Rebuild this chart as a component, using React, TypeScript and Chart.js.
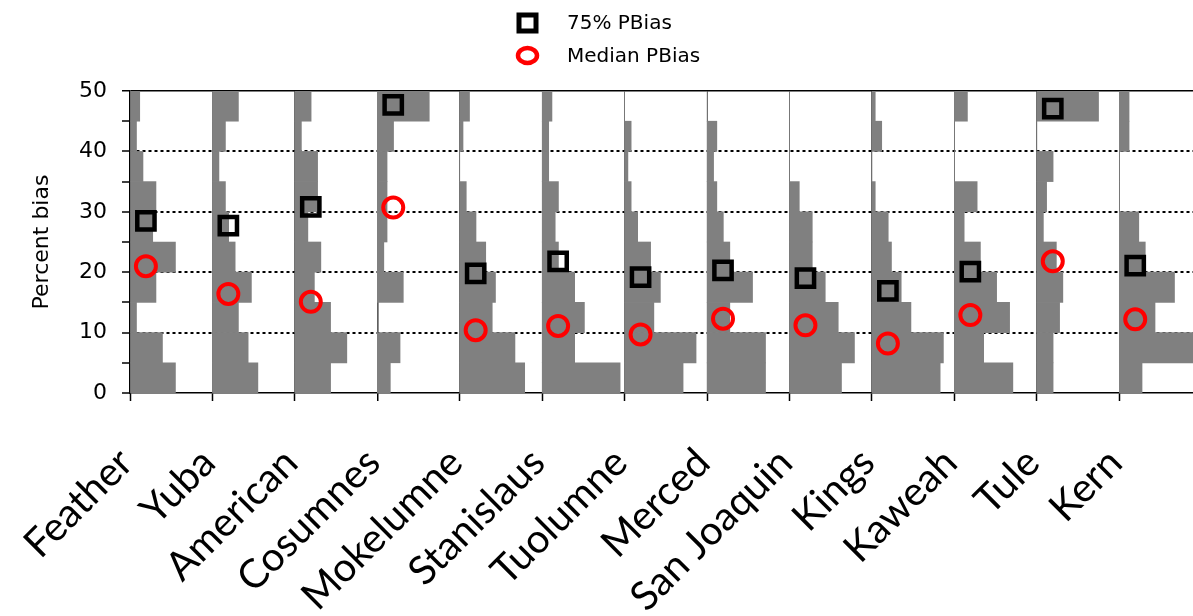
import { useEffect, useRef } from 'react';
import { Chart, registerables } from 'chart.js';

Chart.register(...registerables);

// ---- data ----
const RIVERS = ['Feather', 'Yuba', 'American', 'Cosumnes', 'Mokelumne', 'Stanislaus', 'Tuolumne', 'Merced', 'San Joaquin', 'Kings', 'Kaweah', 'Tule', 'Kern'];
// bin centres of percent bias (bins 0-5, 5-10, ..., 45-50)
const BIN_CENTERS = [2.5, 7.5, 12.5, 17.5, 22.5, 27.5, 32.5, 37.5, 42.5, 47.5];
// histogram counts per bin (0-5 ... 45-50)
const FEATHER = [14, 10, 2, 8, 14, 7, 8, 4, 2, 3];
const YUBA = [14, 11, 8, 12, 7, 5, 4, 2, 4, 8];
const AMERICAN = [11, 16, 11, 6, 8, 4, 7, 7, 2, 5];
const COSUMNES = [4, 7, 0, 8, 2, 3, 3, 3, 5, 16];
const MOKELUMNE = [20, 17, 10, 11, 8, 5, 2, 0, 1, 3];
const STANISLAUS = [24, 10, 13, 10, 5, 4, 5, 2, 2, 3];
const TUOLUMNE = [18, 22, 9, 11, 8, 4, 2, 1, 2, 0];
const MERCED = [18, 18, 7, 14, 7, 5, 3, 2, 3, 0];
const SAN_JOAQUIN = [16, 20, 15, 11, 7, 7, 3, 0, 0, 0];
const KINGS = [21, 22, 12, 9, 6, 5, 1, 0, 3, 1];
const KAWEAH = [18, 9, 17, 13, 8, 3, 7, 0, 0, 4];
const TULE = [5, 5, 7, 8, 6, 2, 3, 5, 0, 19];
const KERN = [7, 26, 11, 17, 8, 6, 0, 0, 3, 3];
const COUNTS = [FEATHER, YUBA, AMERICAN, COSUMNES, MOKELUMNE, STANISLAUS, TUOLUMNE, MERCED, SAN_JOAQUIN, KINGS, KAWEAH, TULE, KERN];

const P75_PBIAS = [28.5, 27.7, 30.8, 47.7, 19.8, 21.8, 19.2, 20.3, 19.0, 16.9, 20.1, 47.1, 21.1];
const MEDIAN_PBIAS = [21.0, 16.4, 15.1, 30.7, 10.4, 11.1, 9.7, 12.3, 11.2, 8.2, 12.9, 21.8, 12.2];

const Y_TICKS = [0, 5, 10, 15, 20, 25, 30, 35, 40, 45, 50];
const Y_LABELED = [0, 10, 20, 30, 40, 50];

// panel geometry in count units
const PANEL_WIDTH = 25.4;
const MARKER_OFFSET = 4.9;
const X_MAX = 327.5;

// ---- styles ----
const W = 1193;
const H = 616;
const BAR_GRAY = '#808080';

const legendPlugin = {
  id: 'stackedLegend',
  afterDraw(chart: any) {
    const ctx = chart.ctx as CanvasRenderingContext2D;
    const mx = 527.5;
    const tx = 567;
    const rows = [23, 55.5];
    ctx.save();
    ctx.lineWidth = 5;
    ctx.strokeStyle = '#000';
    ctx.strokeRect(mx - 8.5, rows[0] - 8, 17, 16);
    ctx.lineWidth = 4.5;
    ctx.strokeStyle = '#ff0000';
    ctx.beginPath();
    ctx.ellipse(mx, rows[1], 9.5, 7.5, 0, 0, Math.PI * 2);
    ctx.stroke();
    ctx.fillStyle = '#000';
    ctx.font = '20px "DejaVu Sans"';
    ctx.textBaseline = 'middle';
    ctx.textAlign = 'left';
    const labels = chart.data.datasets.filter((d: any) => d.type === 'scatter').map((d: any) => d.label);
    labels.forEach((l: string, k: number) => ctx.fillText(l, tx, rows[k] + 1));
    ctx.restore();
  },
};

export default function App() {
  const ref = useRef<HTMLCanvasElement>(null);

  useEffect(() => {
    if (!ref.current) return;
    const barSets = COUNTS.map((counts, i) => ({
      type: 'bar' as const,
      label: RIVERS[i],
      indexAxis: 'y' as const,
      data: BIN_CENTERS.map((c, j) => ({ y: c, x: [i * PANEL_WIDTH, i * PANEL_WIDTH + counts[j]] })),
      backgroundColor: BAR_GRAY,
      borderWidth: 0,
      grouped: false,
      barPercentage: 1,
      categoryPercentage: 1,
      order: 5,
    }));
    const p75 = {
      type: 'scatter' as const,
      label: '75% PBias',
      indexAxis: 'x' as const,
      data: P75_PBIAS.map((v, i) => ({ x: i * PANEL_WIDTH + MARKER_OFFSET, y: v })),
      pointStyle: 'rect',
      pointRadius: 12.2,
      pointBorderWidth: 4.5,
      pointBorderColor: '#000',
      pointBackgroundColor: 'rgba(0,0,0,0)',
      order: 1,
    };
    const med = {
      type: 'scatter' as const,
      label: 'Median PBias',
      indexAxis: 'x' as const,
      data: MEDIAN_PBIAS.map((v, i) => ({ x: i * PANEL_WIDTH + MARKER_OFFSET, y: v })),
      pointStyle: 'circle',
      pointRadius: 10,
      pointBorderWidth: 4,
      pointBorderColor: '#ff0000',
      pointBackgroundColor: 'rgba(0,0,0,0)',
      order: 0,
    };

    const chart = new Chart(ref.current, {
      type: 'bar',
      data: { datasets: [...barSets, p75, med] as any },
      plugins: [legendPlugin],
      options: {
        responsive: false,
        animation: false,
        indexAxis: 'y',
        layout: { autoPadding: false, padding: { top: 91, left: 0, right: 0, bottom: 0 } },
        plugins: { legend: { display: false }, tooltip: { enabled: false } },
        scales: {
          x: {
            type: 'linear',
            min: 0,
            max: X_MAX,
            offset: false,
            afterBuildTicks: (s: any) => {
              s.ticks = RIVERS.map((_, i) => ({ value: i * PANEL_WIDTH }));
            },
            afterFit: (s: any) => {
              s.height = H - 393;
              s.paddingLeft = 0;
              s.paddingRight = 0;
            },
            ticks: {
              autoSkip: false,
              minRotation: 45,
              maxRotation: 45,
              padding: 38,
              labelOffset: -4,
              color: '#000',
              font: { family: 'Lato', size: 40 },
              callback: (_v: any, i: number) => RIVERS[i],
            },
            grid: {
              offset: false,
              color: (c: any) => (c.index === 3 ? '#222' : '#666'),
              lineWidth: (c: any) => (c.index === 3 ? 1.5 : 1),
              tickColor: '#000',
              tickLength: 8,
              tickWidth: 1.5,
            },
            border: { display: true, color: '#000', width: 1.5 },
          },
          y: {
            type: 'linear',
            min: 0,
            max: 50,
            offset: false,
            afterBuildTicks: (s: any) => {
              s.ticks = Y_TICKS.map((v) => ({ value: v }));
            },
            afterFit: (s: any) => {
              s.width = 130;
              s.paddingTop = 0;
              s.paddingBottom = 0;
            },
            ticks: {
              color: '#000',
              padding: 15,
              font: { family: 'DejaVu Sans', size: 22 },
              callback: (v: any) => (Y_LABELED.includes(v) ? String(v) : ''),
            },
            grid: {
              offset: false,
              color: (c: any) => {
                const v = c.tick ? c.tick.value : -1;
                return v > 0 && v % 10 === 0 ? '#000' : 'rgba(0,0,0,0)';
              },
              lineWidth: (c: any) => (c.tick && c.tick.value === 50 ? 1.5 : 2),
              tickColor: '#000',
              tickLength: 8,
              tickWidth: 1.5,
            },
            border: {
              display: true,
              color: '#000',
              width: 1.5,
              dash: (c: any) => (c.tick && c.tick.value !== 50 ? [3, 3] : []),
            },
            title: {
              display: true,
              text: 'Percent bias',
              color: '#000',
              font: { family: 'DejaVu Sans', size: 22 },
              padding: { top: 29, bottom: 0 },
            },
          },
        },
      } as any,
    });
    return () => chart.destroy();
  }, []);

  return (
    <div style={{ position: 'absolute', left: 0, top: 0, width: W, height: H, overflow: 'hidden', background: '#fff' }}>
      <canvas ref={ref} width={W} height={H} style={{ display: 'block' }} />
    </div>
  );
}
